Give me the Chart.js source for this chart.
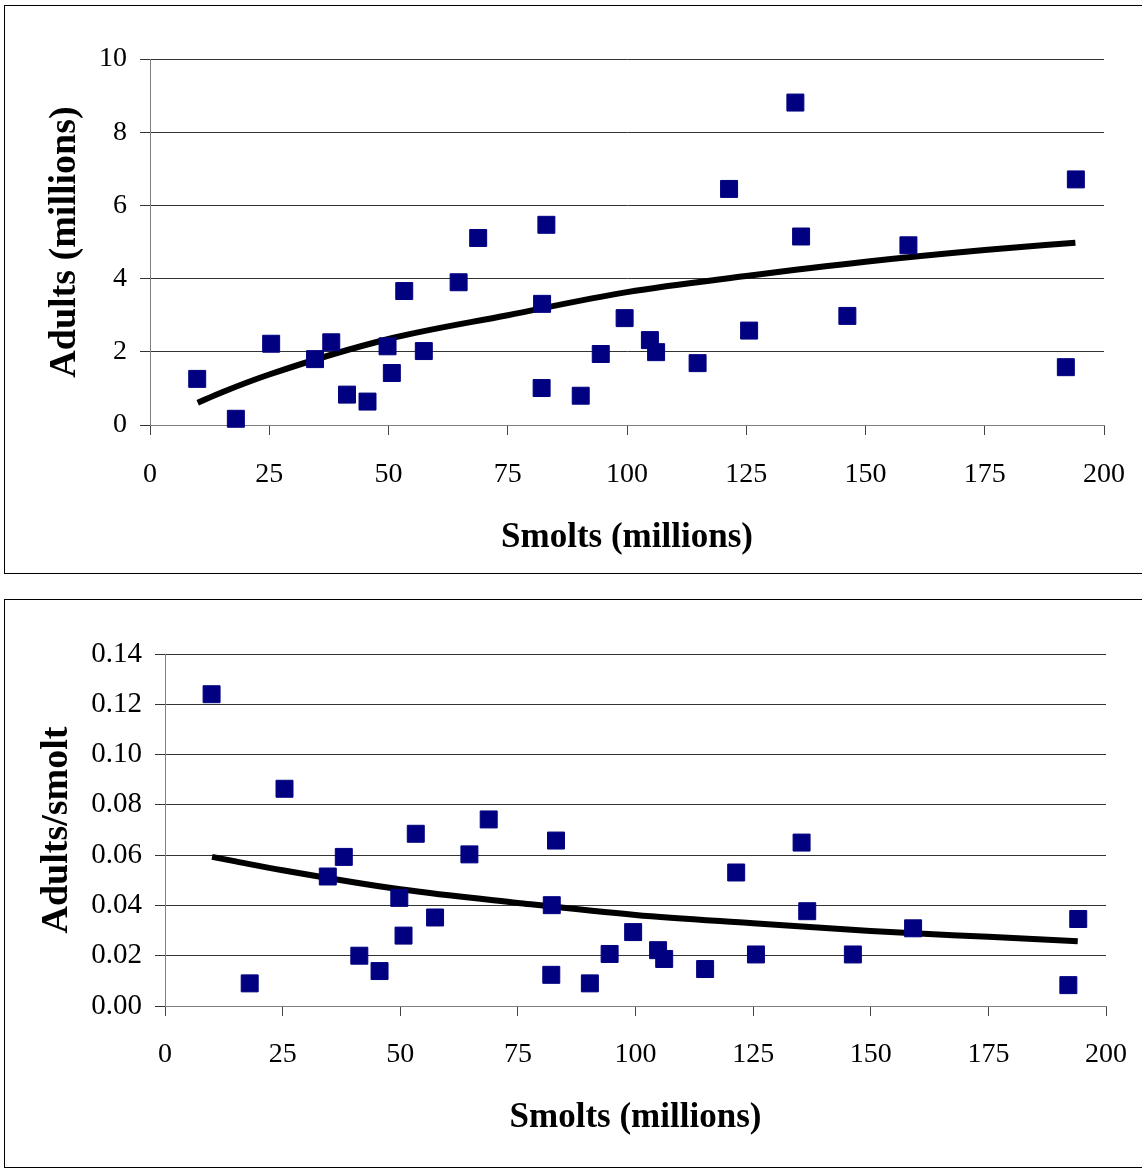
<!DOCTYPE html>
<html>
<head>
<meta charset="utf-8">
<title>Smolts and adults</title>
<script src="https://cdn.jsdelivr.net/npm/chart.js@4.4.1/dist/chart.umd.min.js"></script>
<style>
  html, body { margin: 0; padding: 0; background: #fff; }
  body { width: 1142px; height: 1169px; overflow: hidden; position: relative; }
  .panel { position: absolute; left: 4px; border: 1px solid #000; }
  .panel canvas { display: block; }
  #panel-adults { top: 5px; }
  #panel-ratio { top: 599px; }
</style>
</head>
<body>
<div class="panel" id="panel-adults"><canvas id="adults-chart" width="1138" height="567"></canvas></div>
<div class="panel" id="panel-ratio"><canvas id="ratio-chart" width="1138" height="567"></canvas></div>
<script>
// values (smolts on x in both)
const smolts = [9.9, 18.0, 25.4, 34.6, 38.0, 41.3, 45.6, 49.8, 50.7, 53.3, 57.4, 64.7, 68.8, 83.1, 82.2, 82.1,
  90.3, 94.5, 99.5, 104.8, 106.1, 114.8, 121.4, 125.6, 135.3, 136.5, 146.2, 159.0, 192.0, 194.1];
const adults = [1.26, 0.17, 2.22, 1.80, 2.26, 0.83, 0.64, 2.15, 1.42, 3.66, 2.02, 3.90, 5.11, 5.47, 3.31, 1.01,
  0.80, 1.94, 2.92, 2.32, 1.99, 1.69, 6.45, 2.58, 8.81, 5.15, 2.98, 4.91, 1.58, 6.71];
const adultsPerSmolt = [0.124, 0.009, 0.0864, 0.0515, 0.0593, 0.0200, 0.0139, 0.0430, 0.0280, 0.0685, 0.0352,
  0.0603, 0.0742, 0.0658, 0.0401, 0.0124, 0.0090, 0.0207, 0.0294, 0.0222, 0.0187, 0.0147, 0.0531, 0.0205,
  0.0650, 0.0377, 0.0205, 0.0309, 0.0083, 0.0346];

// fitted curves, read at a few smolt values
const trendSmolts = [10, 15, 25, 50, 75, 100, 125, 150, 175, 194];
const trendAdults = [0.61, 0.89, 1.38, 2.35, 3.0, 3.63, 4.07, 4.46, 4.78, 4.98];
const trendAdultsPerSmolt = [0.0593, 0.0575, 0.054, 0.0464, 0.041, 0.0362, 0.0329, 0.0298, 0.0275, 0.0258];

const smoltTicks = ['0', '25', '50', '75', '100', '125', '150', '175', '200'];
const adultTicks = ['0', '2', '4', '6', '8', '10'];
const ratioTicks = ['0.00', '0.02', '0.04', '0.06', '0.08', '0.10', '0.12', '0.14'];

(function () {
  const FONT = "'Liberation Serif', 'Times New Roman', serif";
  const MARKER = '#000080';

  function toPoints(xs, ys) {
    return xs.map((x, i) => ({ x, y: ys[i] }));
  }

  function buildChart(canvas, opts) {
    return new Chart(canvas, {
      type: 'scatter',
      data: {
        datasets: [{
          data: toPoints(smolts, opts.values),
          pointStyle: 'rect',
          pointRadius: 12,
          backgroundColor: MARKER,
          borderColor: MARKER,
          borderWidth: 1,
          clip: false
        }, {
          data: toPoints(trendSmolts, opts.trend),
          showLine: true,
          pointRadius: 0,
          borderColor: '#000',
          borderWidth: 6,
          cubicInterpolationMode: 'monotone',
          clip: false
        }]
      },
      options: {
        responsive: false,
        animation: false,
        events: [],
        layout: { padding: { top: opts.padTop, right: opts.padRight, left: 0, bottom: 0 } },
        plugins: { legend: { display: false }, tooltip: { enabled: false } },
        scales: {
          x: {
            type: 'linear',
            min: 0,
            max: 200,
            border: { color: '#808080', width: 1 },
            grid: { drawOnChartArea: false, tickLength: 10, color: '#444' },
            ticks: {
              stepSize: 25,
              padding: opts.xTickPad,
              color: '#000',
              font: { family: FONT, size: 28 },
              maxRotation: 0,
              callback: (value, index) => smoltTicks[index]
            },
            title: {
              display: true,
              text: 'Smolts (millions)',
              color: '#000',
              font: { family: FONT, size: 35, weight: 'bold' },
              padding: { top: 0, bottom: opts.xTitlePad }
            },
            afterFit: scale => {
              // fixed box; the tick padding should not eat into the plot width
              scale.height = opts.xHeight;
              scale.paddingLeft = 0;
              scale.paddingRight = 0;
            }
          },
          y: {
            min: 0,
            max: opts.max,
            border: { color: '#808080', width: 1 },
            grid: { tickLength: 10, color: '#333' },
            ticks: {
              stepSize: opts.step,
              padding: 13,
              color: '#000',
              font: { family: FONT, size: opts.yTickSize },
              callback: (value, index) => opts.tickLabels[index]
            },
            title: {
              display: true,
              text: opts.yTitle,
              color: '#000',
              font: { family: FONT, size: 38, weight: 'bold' },
              padding: { top: opts.yTitlePad, bottom: 0 }
            },
            afterFit: scale => { scale.width = opts.yWidth; }
          }
        }
      }
    });
  }

  buildChart(document.getElementById('adults-chart'), {
    values: adults,
    trend: trendAdults,
    max: 10,
    step: 2,
    tickLabels: adultTicks,
    yTickSize: 28,
    yTitle: 'Adults (millions)',
    padTop: 53,
    padRight: 39,
    yWidth: 145,
    xHeight: 148,
    xTickPad: 23,
    xTitlePad: 14,
    yTitlePad: 37
  });

  buildChart(document.getElementById('ratio-chart'), {
    values: adultsPerSmolt,
    trend: trendAdultsPerSmolt,
    max: 0.14,
    step: 0.02,
    tickLabels: ratioTicks,
    yTickSize: 29,
    yTitle: 'Adults/smolt',
    padTop: 54,
    padRight: 37,
    yWidth: 160,
    xHeight: 161,
    xTickPad: 22,
    xTitlePad: 28,
    yTitlePad: 29
  });
})();
</script>
</body>
</html>
